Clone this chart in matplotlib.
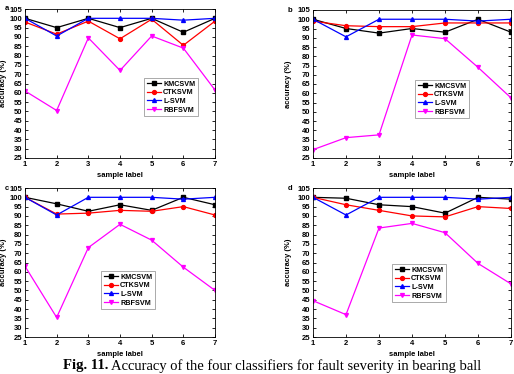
import matplotlib
matplotlib.use("Agg")
import matplotlib.pyplot as plt

samples = [1, 2, 3, 4, 5, 6, 7]
methods = ["KMCSVM", "CTKSVM", "L-SVM", "RBFSVM"]

a_kmc = [100, 95, 100, 95, 100, 92.5, 100]
a_ctk = [98, 91.5, 98.5, 89, 99.5, 85.5, 98.5]
a_lsvm = [100, 90.5, 100, 100, 100, 99, 100]
a_rbf = [61, 50.5, 89.5, 72, 90.5, 84, 61.5]

b_kmc = [100, 95, 92.5, 95, 93, 100, 93]
b_ctk = [99, 96.5, 96, 96, 98, 98, 98]
b_lsvm = [100, 90.5, 100, 100, 100, 99, 100]
b_rbf = [29.5, 36, 37.5, 91.5, 89.5, 74, 57.5]

c_kmc = [100, 96.5, 92.5, 96, 93, 100, 96]
c_ctk = [100, 91, 91.5, 93, 92.5, 95, 90.5]
c_lsvm = [100, 90.5, 100, 100, 100, 99, 100]
c_rbf = [63, 35.5, 73, 85.5, 77, 62.5, 50]

d_kmc = [100, 99.5, 96, 95, 91.5, 100, 99]
d_ctk = [100, 96, 93, 90, 89.5, 95, 94]
d_lsvm = [100, 90.5, 100, 100, 100, 99, 100]
d_rbf = [44.5, 37, 83.5, 86, 81, 64.5, 53.5]

panel_labels = ["a", "b", "c", "d"]
yticks = list(range(25, 106, 5))

W, H = 514, 374
fig = plt.figure(figsize=(W / 100, H / 100), dpi=100)
plt.rcParams['font.family'] = ['Liberation Sans', 'DejaVu Sans']

def px_rect(x0, y0, x1, y1):
    return [x0 / W, 1 - y1 / H, (x1 - x0) / W, (y1 - y0) / H]

rects = [px_rect(25, 9, 215, 158), px_rect(313, 10, 511, 158),
         px_rect(25, 188, 215, 337), px_rect(313, 188, 511, 337)]
leg_pos = [(144, 78), (415, 80), (101, 271), (392, 264)]
letter_pos = [(5, 8), (288, 10), (5, 189), (288, 188)]
ylab_x = [7, 292, 7, 292]

series_all = [
    (a_kmc, a_ctk, a_lsvm, a_rbf),
    (b_kmc, b_ctk, b_lsvm, b_rbf),
    (c_kmc, c_ctk, c_lsvm, c_rbf),
    (d_kmc, d_ctk, d_lsvm, d_rbf),
]
colors = ["black", "red", "blue", "magenta"]
markers = ["s", "o", "^", "v"]
fs = 5.5

for i in range(4):
    ax = fig.add_axes(rects[i])
    for vals, name, c, m in zip(series_all[i], methods, colors, markers):
        ax.plot(samples, vals, color=c, marker=m, markersize=2.8, lw=0.9, label=name)
    ax.set_xlim(1, 7)
    ax.set_ylim(25, 105)
    ax.set_xticks(samples)
    ax.set_yticks(yticks)
    ax.tick_params(direction="in", length=2.5, width=0.6, top=True, right=True,
                   labelsize=fs, pad=2)
    for lab in ax.get_xticklabels() + ax.get_yticklabels():
        lab.set_fontweight("bold")
    for sp in ax.spines.values():
        sp.set_linewidth(0.6)
    ax.set_xlabel("sample label", fontsize=fs, fontweight="bold", labelpad=3)
    ax.set_ylabel("accuracy (%)", fontsize=fs, fontweight="bold")
    x0 = rects[i][0] * W
    wpx = rects[i][2] * W
    ax.yaxis.set_label_coords((ylab_x[i] - x0) / wpx, 0.5)
    lx, ly = leg_pos[i]
    leg = ax.legend(loc="upper left", bbox_to_anchor=(lx / W, 1 - ly / H),
                    bbox_transform=fig.transFigure,
                    prop={"weight": "bold", "size": 5.2}, fancybox=False,
                    framealpha=1, edgecolor="#888888", handlelength=2.0,
                    handletextpad=0.3, borderpad=0.35, labelspacing=0.22,
                    borderaxespad=0)
    leg.get_frame().set_linewidth(0.5)
    fig.text(letter_pos[i][0] / W, 1 - letter_pos[i][1] / H, panel_labels[i],
             fontsize=fs, fontweight="bold", ha="left", va="center")

cap_y = 1 - 366 / H
t1 = fig.text(63 / W, cap_y, "Fig. 11.", family=["Liberation Serif"], fontsize=10.5,
              fontweight="bold", ha="left", va="center")
fig.canvas.draw()
bb = t1.get_window_extent(fig.canvas.get_renderer())
fig.text(bb.x1 / W + 3 / W, cap_y,
         "Accuracy of the four classifiers for fault severity in bearing ball",
         family=["Liberation Serif"], fontsize=10.5, ha="left", va="center")

fig.savefig("out.png", dpi=100)
